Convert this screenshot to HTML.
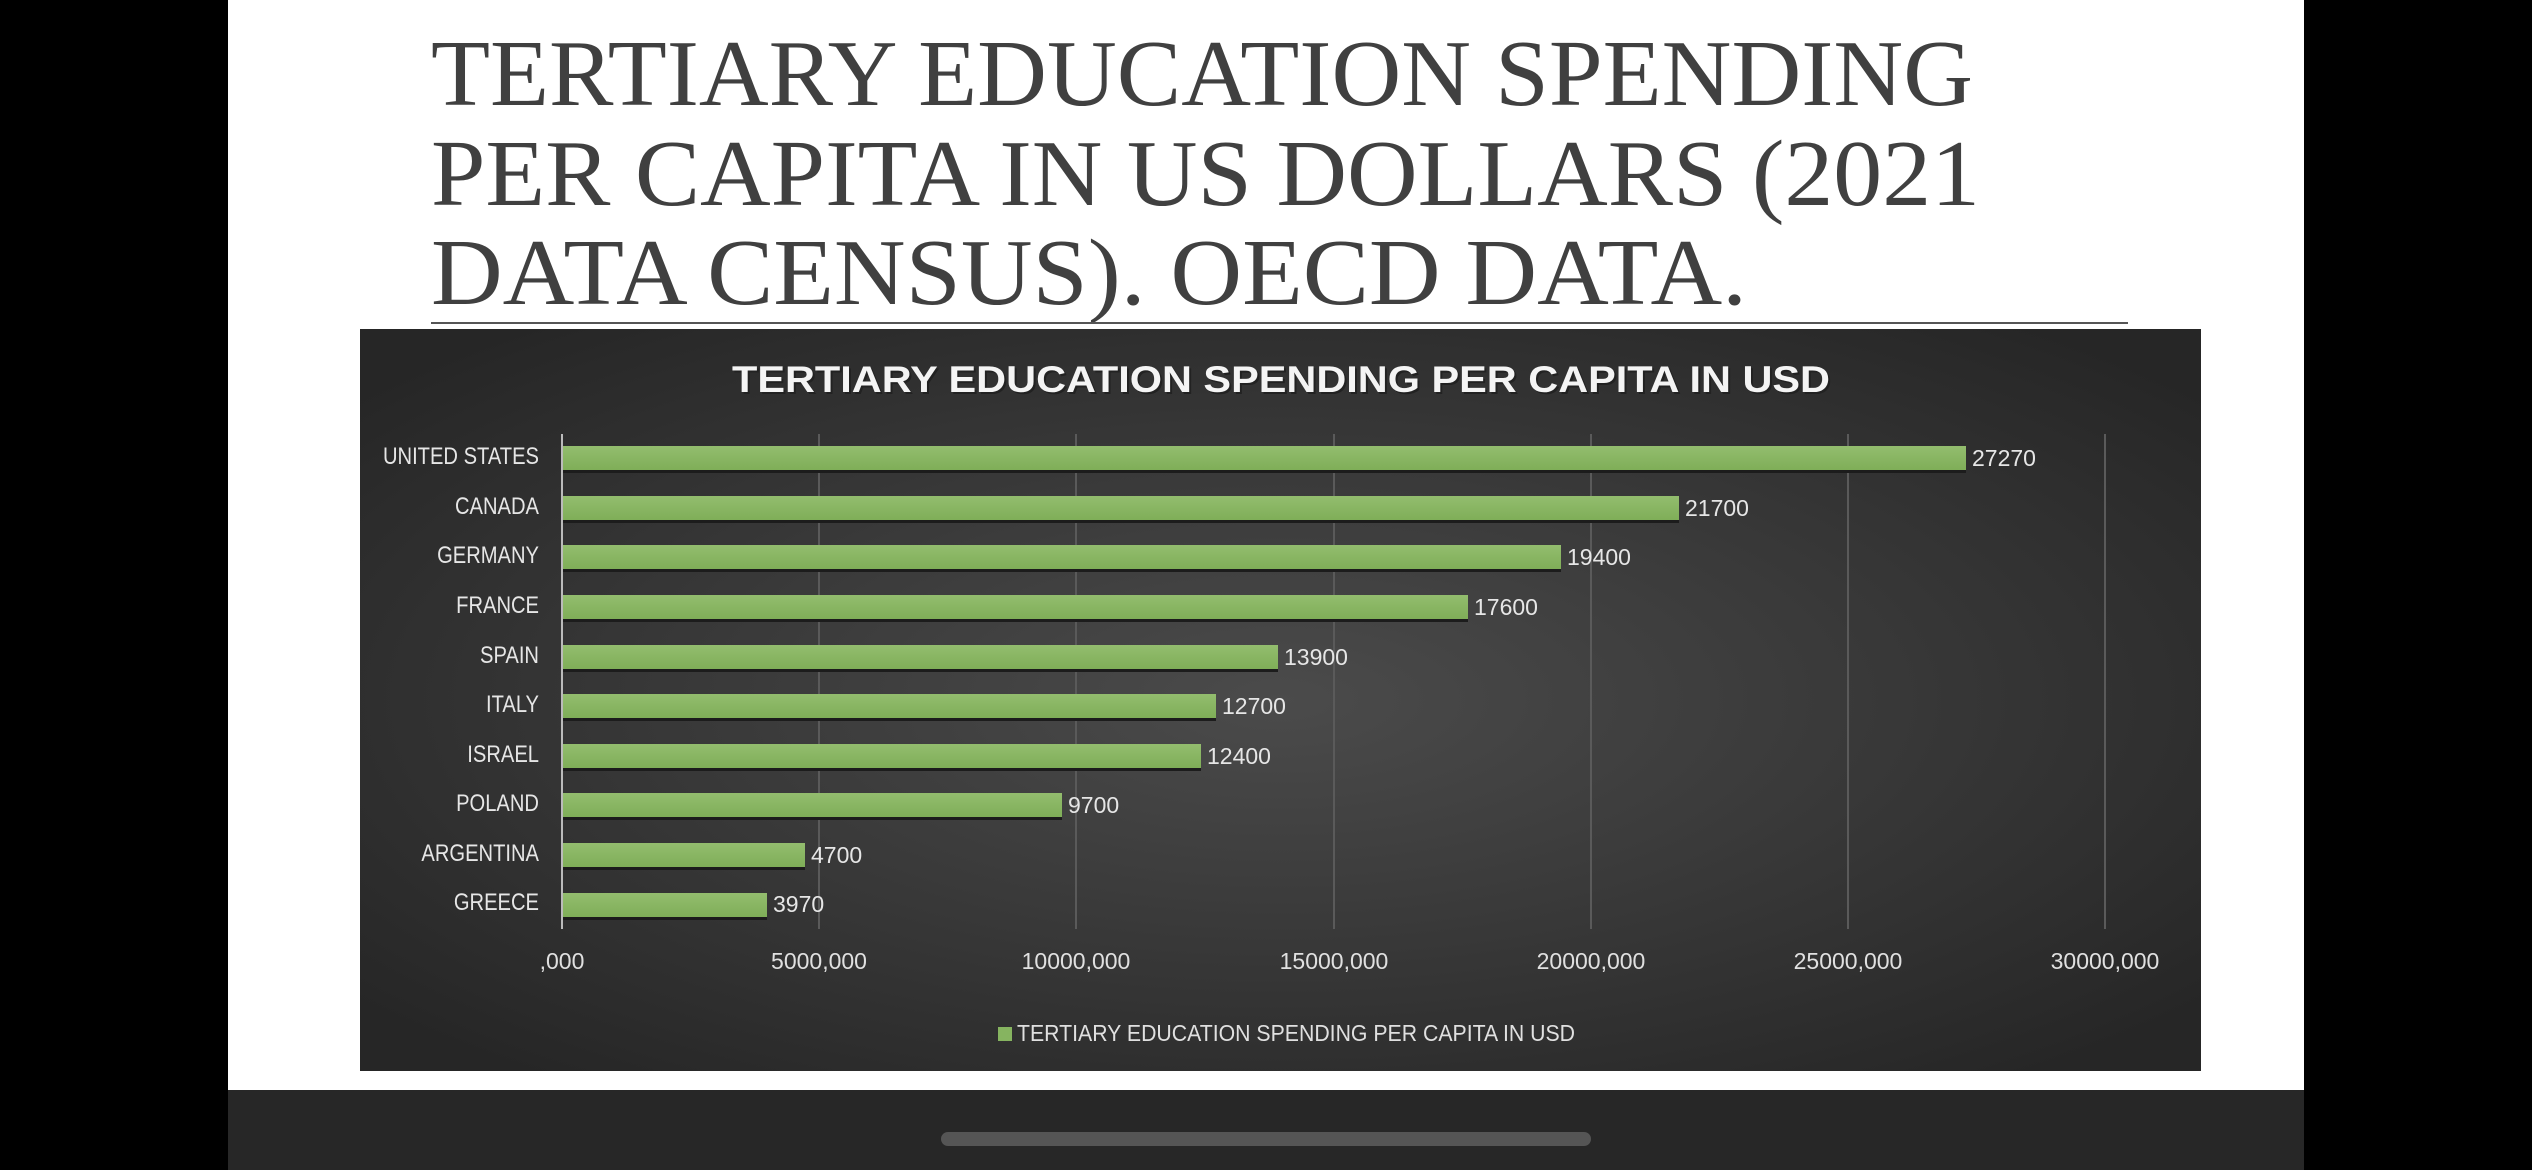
<!DOCTYPE html>
<html><head><meta charset="utf-8"><style>
html,body{margin:0;padding:0;background:#000;width:2532px;height:1170px;overflow:hidden}
svg{display:block}
</style></head><body>
<svg width="2532" height="1170" xmlns="http://www.w3.org/2000/svg">
<defs>
<radialGradient id="bg" cx="50%" cy="50%" r="65%">
<stop offset="0" stop-color="#4b4b4b"/><stop offset="1" stop-color="#262626"/>
</radialGradient>
<linearGradient id="bar" x1="0" y1="0" x2="0" y2="1">
<stop offset="0" stop-color="#93bd6e"/><stop offset="1" stop-color="#7fae58"/>
</linearGradient>
</defs>
<rect x="0" y="0" width="2532" height="1170" fill="#000"/>
<rect x="228" y="0" width="2076" height="1090" fill="#fff"/>
<rect x="228" y="1090" width="2076" height="80" fill="#272727"/>
<rect x="941" y="1132" width="650" height="14" rx="7" fill="#555"/>
<g font-family="'Liberation Serif',serif" font-size="94" fill="#404040">
<text x="431" y="105" textLength="1542" lengthAdjust="spacingAndGlyphs">TERTIARY EDUCATION SPENDING</text>
<text x="431" y="205" textLength="1549" lengthAdjust="spacingAndGlyphs">PER CAPITA IN US DOLLARS (2021</text>
<text x="431" y="304" textLength="1316" lengthAdjust="spacingAndGlyphs">DATA CENSUS). OECD DATA.</text>
</g>
<rect x="431" y="322" width="1697" height="2" fill="#555"/>
<rect x="360" y="329" width="1841" height="742" fill="url(#bg)"/>
<text x="734" y="394" font-family="'Liberation Sans',sans-serif" font-weight="bold" font-size="37" fill="#222" textLength="1098" lengthAdjust="spacingAndGlyphs">TERTIARY EDUCATION SPENDING PER CAPITA IN USD</text>
<text x="732" y="392" font-family="'Liberation Sans',sans-serif" font-weight="bold" font-size="37" fill="#f4f4f4" textLength="1098" lengthAdjust="spacingAndGlyphs">TERTIARY EDUCATION SPENDING PER CAPITA IN USD</text>
<g stroke="#5a5a5a" stroke-width="2">
<line x1="819" y1="434" x2="819" y2="929"/><line x1="1076" y1="434" x2="1076" y2="929"/>
<line x1="1334" y1="434" x2="1334" y2="929"/><line x1="1591" y1="434" x2="1591" y2="929"/>
<line x1="1848" y1="434" x2="1848" y2="929"/><line x1="2105" y1="434" x2="2105" y2="929"/>
</g>
<line x1="562" y1="434" x2="562" y2="929" stroke="#bbb" stroke-width="2"/>
<g font-family="'Liberation Sans',sans-serif" font-size="23" fill="#e6e6e6">
<rect x="563" y="449" width="1403" height="24" fill="#1c1c1c"/><rect x="563" y="446" width="1403" height="24" fill="url(#bar)"/>
<text x="1972" y="466">27270</text>
<rect x="563" y="499" width="1116" height="24" fill="#1c1c1c"/><rect x="563" y="496" width="1116" height="24" fill="url(#bar)"/>
<text x="1685" y="516">21700</text>
<rect x="563" y="548" width="998" height="24" fill="#1c1c1c"/><rect x="563" y="545" width="998" height="24" fill="url(#bar)"/>
<text x="1567" y="565">19400</text>
<rect x="563" y="598" width="905" height="24" fill="#1c1c1c"/><rect x="563" y="595" width="905" height="24" fill="url(#bar)"/>
<text x="1474" y="615">17600</text>
<rect x="563" y="648" width="715" height="24" fill="#1c1c1c"/><rect x="563" y="645" width="715" height="24" fill="url(#bar)"/>
<text x="1284" y="665">13900</text>
<rect x="563" y="697" width="653" height="24" fill="#1c1c1c"/><rect x="563" y="694" width="653" height="24" fill="url(#bar)"/>
<text x="1222" y="714">12700</text>
<rect x="563" y="747" width="638" height="24" fill="#1c1c1c"/><rect x="563" y="744" width="638" height="24" fill="url(#bar)"/>
<text x="1207" y="764">12400</text>
<rect x="563" y="796" width="499" height="24" fill="#1c1c1c"/><rect x="563" y="793" width="499" height="24" fill="url(#bar)"/>
<text x="1068" y="813">9700</text>
<rect x="563" y="846" width="242" height="24" fill="#1c1c1c"/><rect x="563" y="843" width="242" height="24" fill="url(#bar)"/>
<text x="811" y="863">4700</text>
<rect x="563" y="896" width="204" height="24" fill="#1c1c1c"/><rect x="563" y="893" width="204" height="24" fill="url(#bar)"/>
<text x="773" y="912">3970</text>
</g>
<g font-family="'Liberation Sans',sans-serif" font-size="24" fill="#e6e6e6" text-anchor="end" transform="translate(539,0) scale(0.84,1) translate(-539,0)">
<text x="539" y="464">UNITED STATES</text>
<text x="539" y="514">CANADA</text>
<text x="539" y="563">GERMANY</text>
<text x="539" y="613">FRANCE</text>
<text x="539" y="663">SPAIN</text>
<text x="539" y="712">ITALY</text>
<text x="539" y="762">ISRAEL</text>
<text x="539" y="811">POLAND</text>
<text x="539" y="861">ARGENTINA</text>
<text x="539" y="910">GREECE</text>
</g>
<g font-family="'Liberation Sans',sans-serif" font-size="23" fill="#e0e0e0" text-anchor="middle">
<text x="562" y="969">,000</text><text x="819" y="969">5000,000</text><text x="1076" y="969">10000,000</text>
<text x="1334" y="969">15000,000</text><text x="1591" y="969">20000,000</text><text x="1848" y="969">25000,000</text>
<text x="2105" y="969">30000,000</text>
</g>
<rect x="998" y="1027" width="14" height="14" fill="#86b460"/>
<text x="1017" y="1041" font-family="'Liberation Sans',sans-serif" font-size="23" fill="#e0e0e0" textLength="558" lengthAdjust="spacingAndGlyphs">TERTIARY EDUCATION SPENDING PER CAPITA IN USD</text>
</svg>
</body></html>
